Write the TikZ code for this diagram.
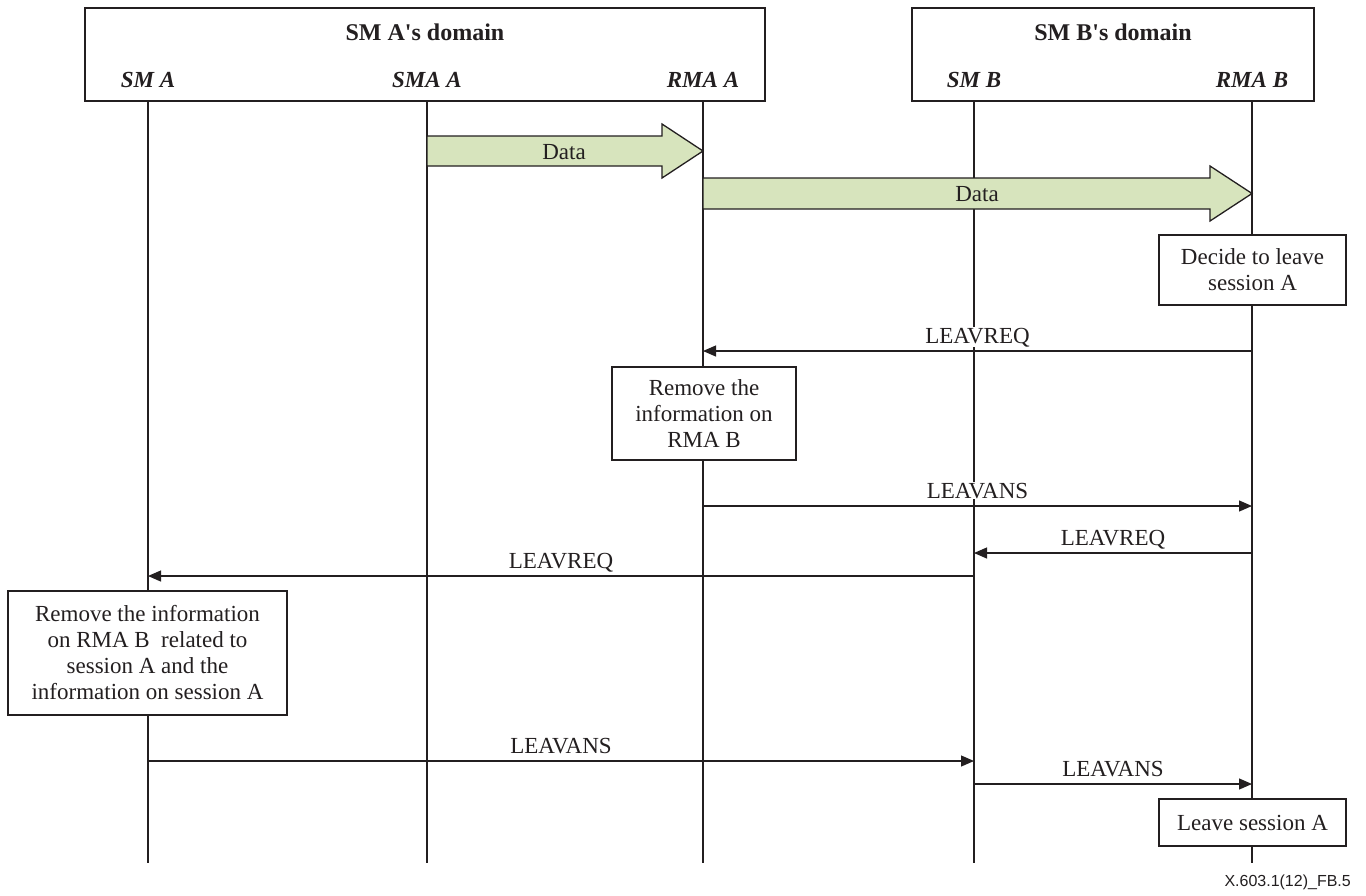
\documentclass[tikz,border=0pt]{standalone}
\usepackage{fontspec}
\setmainfont{Liberation Serif}
\newfontfamily\figidfont{Liberation Sans}
\usetikzlibrary{arrows.meta, positioning, calc}

\definecolor{ink}{RGB}{35,31,32}
\definecolor{datagreen}{RGB}{215,228,189}

\begin{document}
\begin{tikzpicture}[x=1pt, y=-1pt,
    font=\fontsize{23}{26}\selectfont, text=ink,
    domainbox/.style={draw=ink, line width=1.3pt, inner sep=0pt},
    actor/.style={font=\fontsize{23}{26}\selectfont\bfseries\itshape},
    life/.style={draw=ink, line width=1.2pt},
    note/.style={draw=ink, fill=white, line width=1.3pt, align=center, inner sep=0pt},
    msg/.style={draw=ink, line width=1.2pt, -{Triangle[length=13pt, width=11pt]}},
    lbl/.style={midway, anchor=base, yshift=8pt, inner sep=0.5pt, fill=white},
    dataarrow/.style={draw=ink, fill=datagreen, line width=1.3pt, line join=miter}]

  \useasboundingbox[fill=white] (0,0) rectangle (1366,895);

  % domains
  \node[domainbox, minimum width=680pt, minimum height=93pt] (domA) at (425,54.5) {};
  \node[domainbox, minimum width=402pt, minimum height=93pt] (domB) at (1113,54.5) {};
  \node[font=\fontsize{24}{26}\selectfont\bfseries] (domAtitle) at (425,32) {SM A\textquotesingle s domain};
  \node[font=\fontsize{24}{26}\selectfont\bfseries] (domBtitle) at (1113,32) {SM B\textquotesingle s domain};

  \node[actor] (smA) at (148,80) {SM A};
  \node[actor] (smaA) at (427,80) {SMA A};
  \node[actor] (rmaA) at (703,80) {RMA A};
  \node[actor] (smB) at (974,80) {SM B};
  \node[actor] (rmaB) at (1252,80) {RMA B};

  % lifelines
  \foreach \n/\x in {smA/148, smaA/427, rmaA/703, smB/974, rmaB/1252} {
    \coordinate (\n-top) at (\x,101);
    \coordinate (\n-bot) at (\x,863);
    \draw[life] (\n-top) -- (\n-bot);
  }

  % data transfer
  \filldraw[dataarrow] (427,136) -- (662,136) -- (662,124) -- (703,151)
    -- (662,178) -- (662,166) -- (427,166) -- cycle;
  \node (data1) at (564,152) {Data};
  \filldraw[dataarrow] (703,178) -- (1210,178) -- (1210,166) -- (1252,193.5)
    -- (1210,221) -- (1210,209) -- (703,209) -- cycle;
  \node (data2) at (977,194) {Data};

  \node[note, minimum width=187pt, minimum height=70pt] (decide) at (1252.5,270) {Decide to leave\\session A};

  \coordinate (y1) at (0,351);
  \draw[msg] (rmaB-top |- y1) -- (rmaA-top |- y1) node[lbl] (req1) {LEAVREQ};

  \node[note, minimum width=184pt, minimum height=93pt] (removeB) at (704,413.5) {Remove the\\information on\\RMA B};

  \coordinate (y2) at (0,506);
  \draw[msg] (rmaA-top |- y2) -- (rmaB-top |- y2) node[lbl] (ans1) {LEAVANS};
  \coordinate (y3) at (0,553);
  \draw[msg] (rmaB-top |- y3) -- (smB-top |- y3) node[lbl] (req2) {LEAVREQ};
  \coordinate (y4) at (0,576);
  \draw[msg] (smB-top |- y4) -- (smA-top |- y4) node[lbl] (req3) {LEAVREQ};

  \node[note, minimum width=279pt, minimum height=124pt] (removeA) at (147.5,653) {Remove the information\\on RMA B\ \ related to\\session A and the\\information on session A};

  \coordinate (y5) at (0,761);
  \draw[msg] (smA-top |- y5) -- (smB-top |- y5) node[lbl] (ans2) {LEAVANS};
  \coordinate (y6) at (0,784);
  \draw[msg] (smB-top |- y6) -- (rmaB-top |- y6) node[lbl] (ans3) {LEAVANS};

  \node[note, minimum width=187pt, minimum height=47pt] (leave) at (1252.5,822.5) {Leave session A};

  \node[font=\figidfont\fontsize{16}{18}\selectfont, anchor=east, inner sep=0pt] (figid) at (1351,882) {X.603.1(12)\_FB.5};
\end{tikzpicture}
\end{document}
